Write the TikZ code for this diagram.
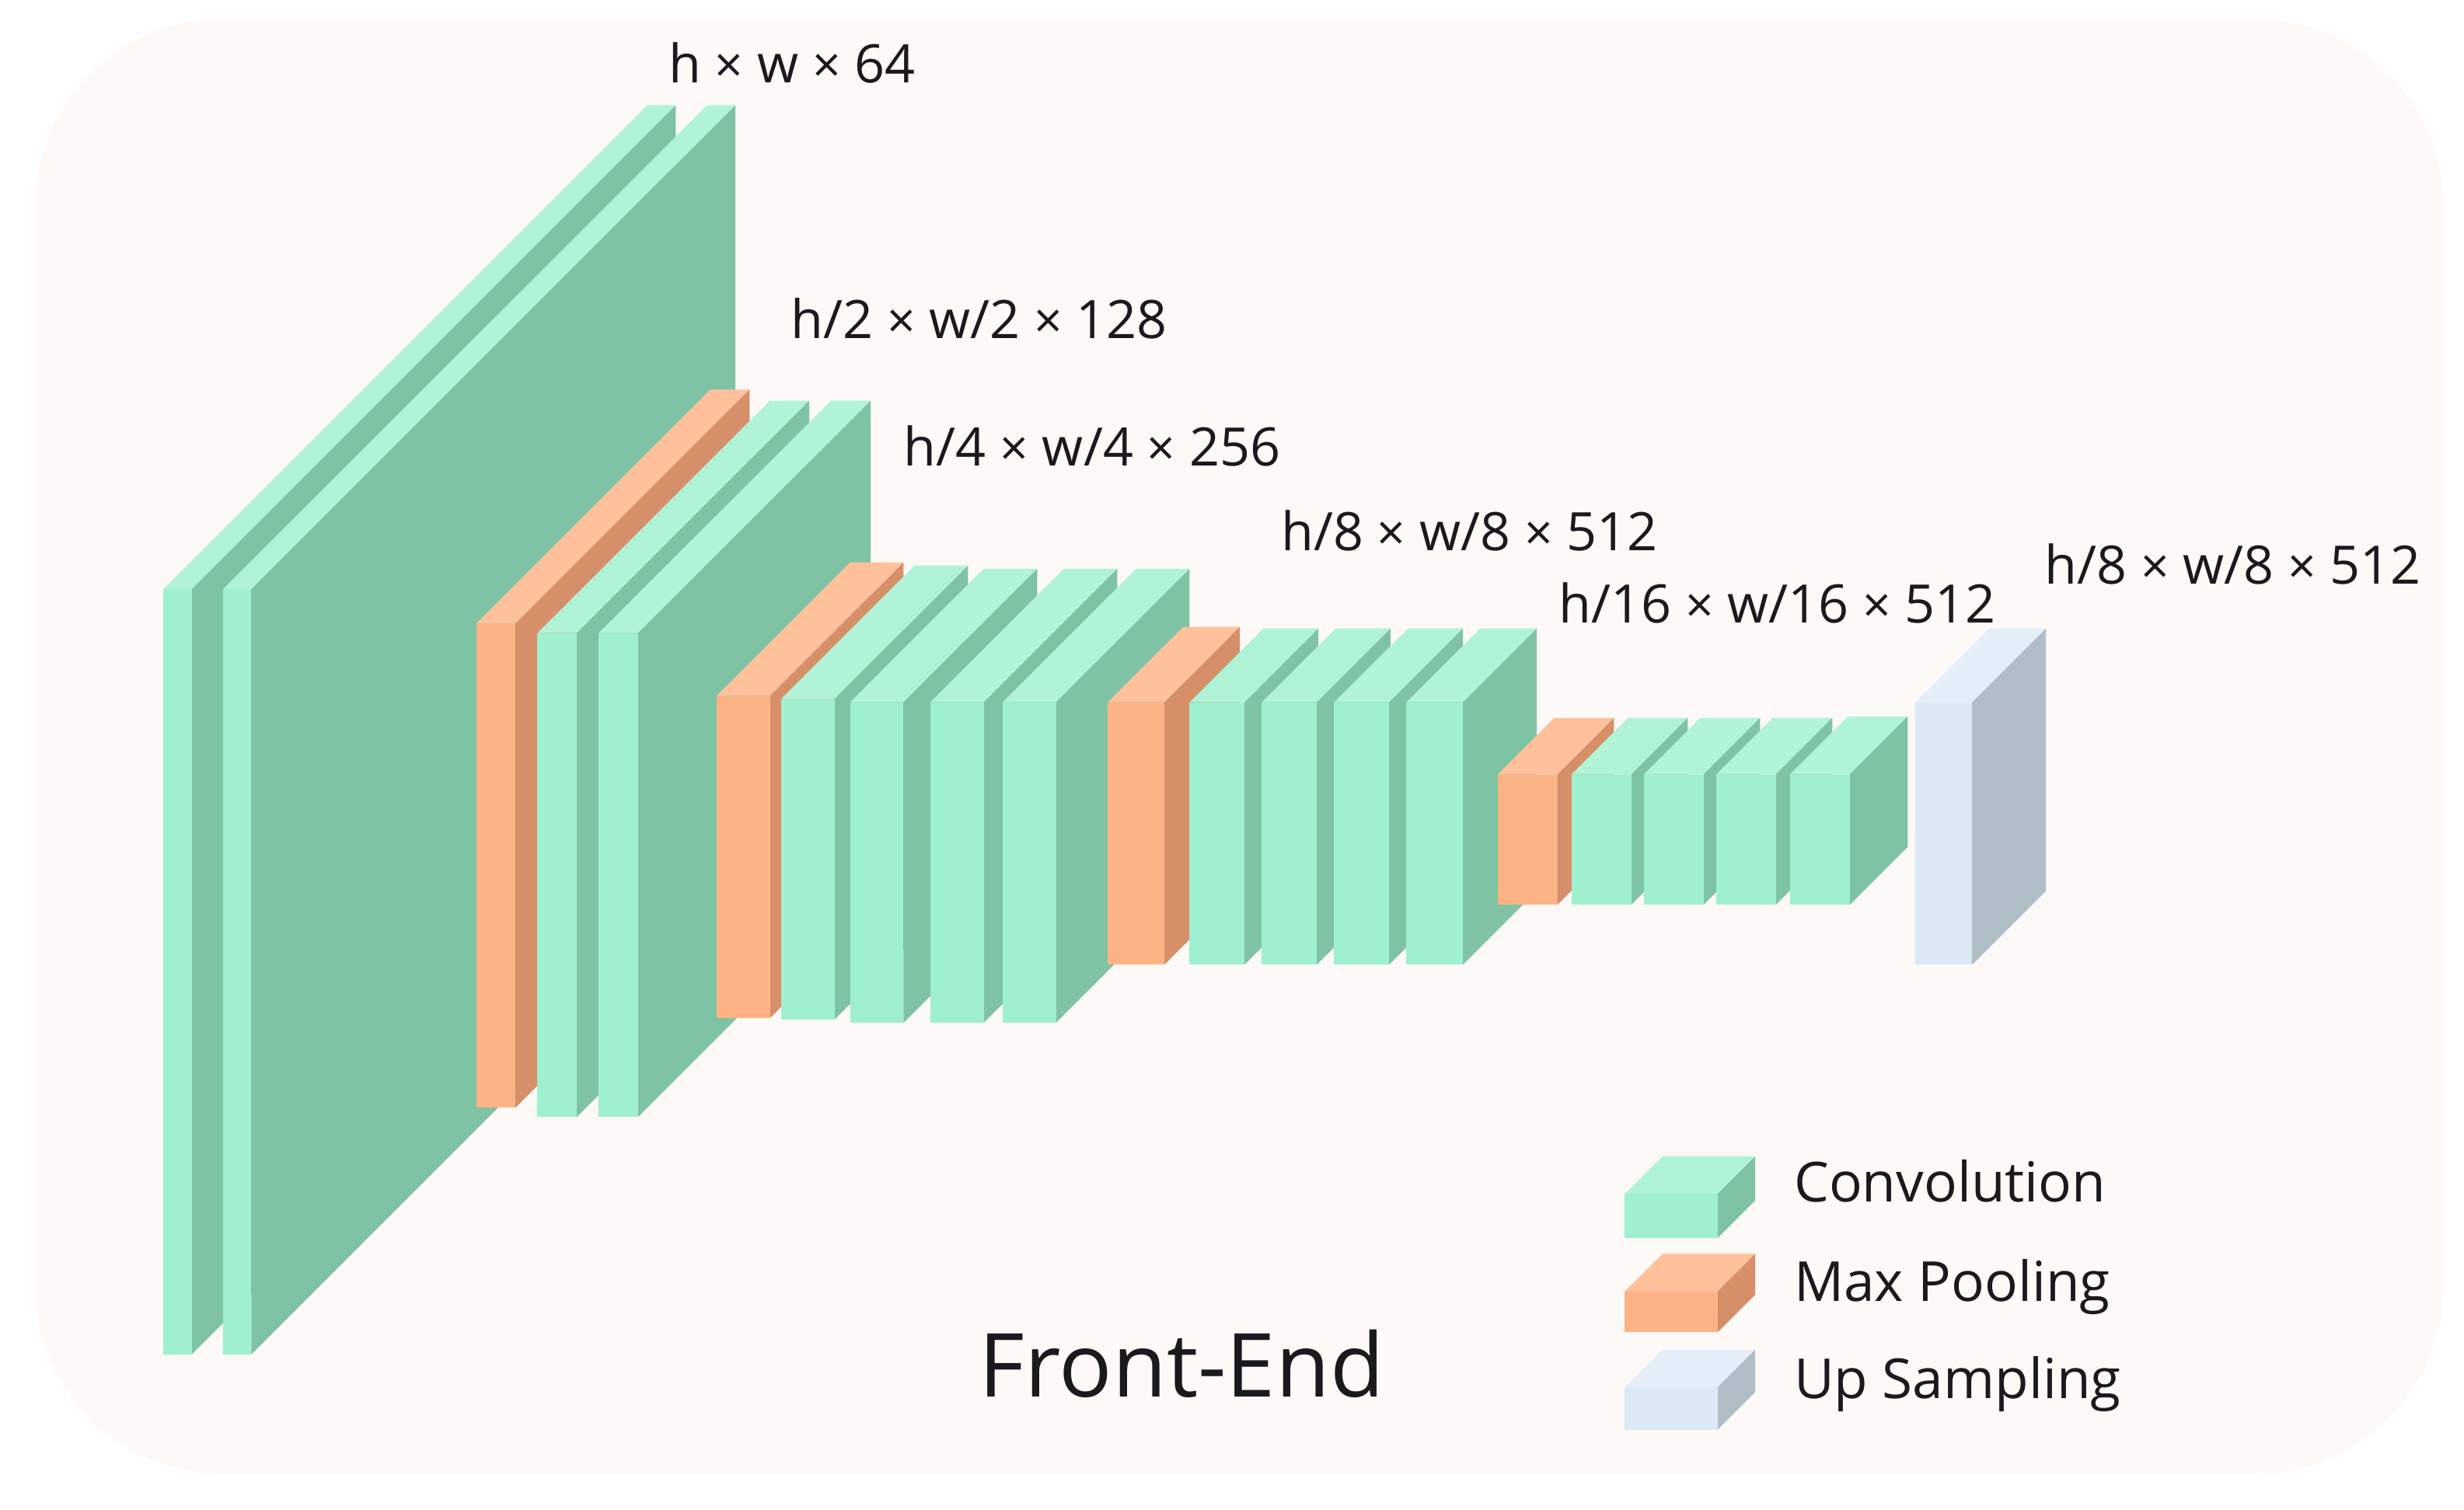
\documentclass[tikz,border=0pt]{standalone}
\usepackage{fontspec}
\setmainfont{Open Sans}
\definecolor{bgcream}{RGB}{253,249,246}
\definecolor{convfront}{RGB}{158,240,206}
\definecolor{convtop}{RGB}{176,243,214}
\definecolor{convside}{RGB}{127,195,165}
\definecolor{poolfront}{RGB}{253,179,133}
\definecolor{pooltop}{RGB}{254,193,156}
\definecolor{poolside}{RGB}{214,143,105}
\definecolor{upfront}{RGB}{219,233,246}
\definecolor{uptop}{RGB}{227,238,248}
\definecolor{upside}{RGB}{176,190,200}
\definecolor{txtdark}{RGB}{25,25,30}
% #1 kind, #2 left, #3 right, #4 top, #5 bottom, #6 depth
\newcommand{\cube}[6]{%
  \fill[#1top] (#2,#4) -- ++(#6,-#6) -- ($(#3,#4)+(#6,-#6)$) -- (#3,#4) -- cycle;
  \fill[#1side] (#3,#4) -- ++(#6,-#6) -- ($(#3,#5)+(#6,-#6)$) -- (#3,#5) -- cycle;
  \fill[#1front] (#2,#4) rectangle (#3,#5);
}
\usetikzlibrary{calc}
\begin{document}
\begin{tikzpicture}[x=0.01cm, y=-0.01cm,
    dimlabel/.style={font=\fontsize{9.6}{12}\selectfont, text=txtdark, inner sep=0pt},
    legendlabel/.style={font=\fontsize{10}{12}\selectfont, text=txtdark, anchor=west, inner sep=0pt}]
    \useasboundingbox (0,0) rectangle (1568,961);
    \fill[bgcream, rounded corners=1.2cm] (22,12) rectangle (1555,938);

    % block 1
    \cube{conv}{104}{122}{375}{862}{308}
    \cube{conv}{142}{160}{375}{862}{308}
    % block 2
    \cube{pool}{303}{328}{397}{705}{149}
    \cube{conv}{342}{367}{403}{711}{148}
    \cube{conv}{381}{406}{403}{711}{148}
    % block 3
    \cube{pool}{456}{490}{443}{648}{85}
    \cube{conv}{497}{531}{445}{649}{85}
    \cube{conv}{541}{575}{447}{651}{85}
    \cube{conv}{592}{626}{447}{651}{85}
    \cube{conv}{638}{672}{447}{651}{85}
    % block 4
    \cube{pool}{705}{741}{447}{614}{48}
    \cube{conv}{757}{792}{447}{614}{47}
    \cube{conv}{803}{838}{447}{614}{47}
    \cube{conv}{849}{884}{447}{614}{47}
    \cube{conv}{895}{931}{447}{614}{47}
    % block 5
    \cube{pool}{953}{991}{493}{576}{36}
    \cube{conv}{1000}{1038}{493}{576}{36}
    \cube{conv}{1046}{1084}{493}{576}{36}
    \cube{conv}{1092}{1130}{493}{576}{36}
    \cube{conv}{1139}{1177}{493}{576}{37}
    % upsampling
    \cube{up}{1219}{1255}{447}{614}{47}

    % sizes
    \node[dimlabel] (s1) at (504,40) {h {\small×} w {\small×} 64};
    \node[dimlabel] (s2) at (623,203) {h/2 {\small×} w/2 {\small×} 128};
    \node[dimlabel] (s3) at (695,284) {h/4 {\small×} w/4 {\small×} 256};
    \node[dimlabel] (s4) at (935,338) {h/8 {\small×} w/8 {\small×} 512};
    \node[dimlabel] (s5) at (1131,384) {h/16 {\small×} w/16 {\small×} 512};
    \node[dimlabel] (s6) at (1421,359) {h/8 {\small×} w/8 {\small×} 512};

    \node[font=\fontsize{16}{20}\selectfont, text=txtdark] (title) at (752,868) {Front-End};

    % legend
    \cube{conv}{1034}{1093}{760}{788}{24}
    \cube{pool}{1034}{1093}{822}{848}{24}
    \cube{up}{1034}{1093}{883}{910}{24}
    \node[legendlabel] (lconv) at (1141,752) {Convolution};
    \node[legendlabel] (lpool) at (1141,819) {Max Pooling};
    \node[legendlabel] (lup) at (1141,881) {Up Sampling};
\end{tikzpicture}
\end{document}
